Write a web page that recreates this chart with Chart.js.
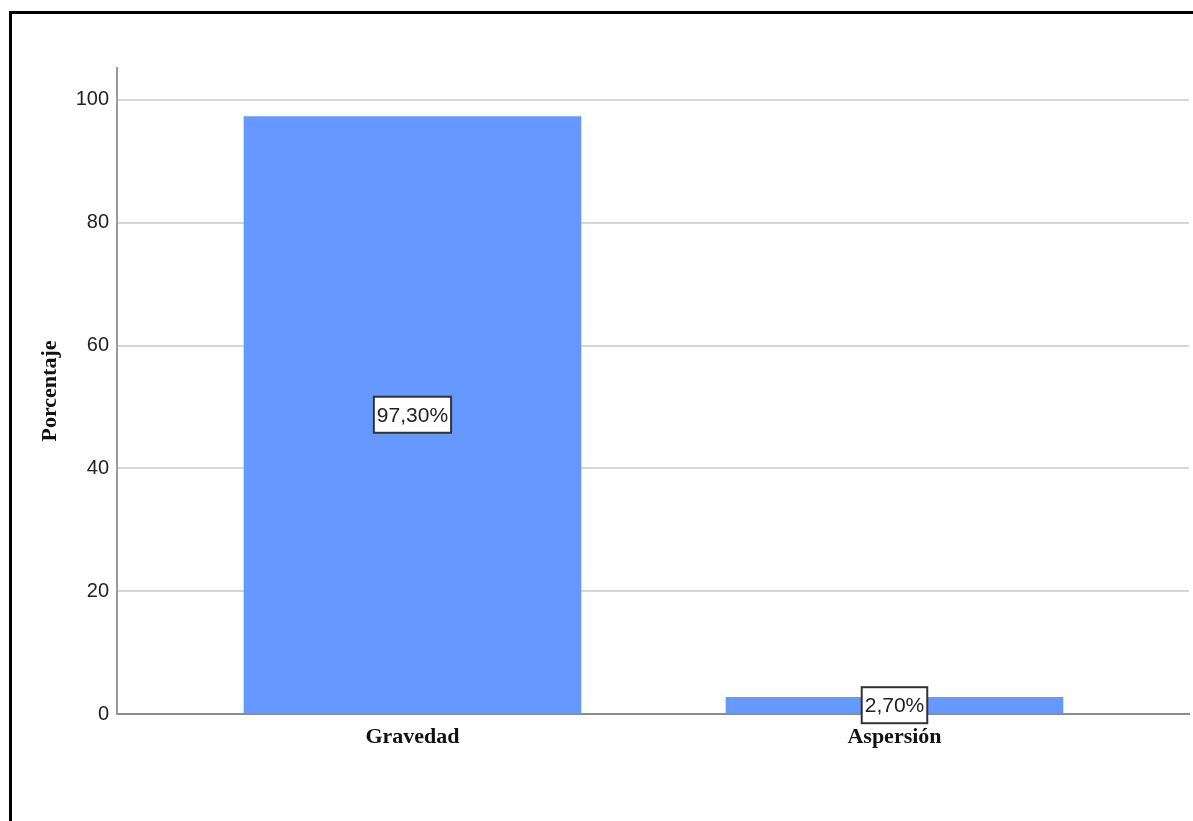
<!DOCTYPE html>
<html lang="es">
<head>
    <meta charset="UTF-8">
    <script src="https://cdn.jsdelivr.net/npm/chart.js@4.4.0/dist/chart.umd.min.js"></script>
    <title>Porcentaje por tipo de riego</title>
    <style>
        body { margin: 0; background: #fff; overflow: hidden; }
        #marco {
            position: absolute; left: 9px; top: 11px;
            width: 1300px; height: 1000px;
            border-left: 3px solid #000; border-top: 3px solid #000;
        }
        #grafico { position: absolute; left: 0; top: 0; }
    </style>
    <script type="text/javascript">
        var categorias = ['Gravedad', 'Aspersión'];
        var porcentajes = [97.3, 2.7];
        var ticksY = [0, 20, 40, 60, 80, 100];

        var etiqueta = function(v) {
            return v.toFixed(2).replace('.', ',') + '%';
        };

        // recuadro blanco con el porcentaje en el centro de cada barra
        var etiquetasBarras = {
            id: 'etiquetasBarras',
            afterDatasetsDraw: function(chart) {
                var ctx = chart.ctx;
                var meta = chart.getDatasetMeta(0);
                ctx.save();
                ctx.font = '21px "Liberation Sans", Arial, sans-serif';
                ctx.textAlign = 'center';
                ctx.textBaseline = 'middle';
                meta.data.forEach(function(bar, i) {
                    var txt = etiqueta(porcentajes[i]);
                    var cx = bar.x;
                    var cy = (bar.y + bar.base) / 2;
                    var w = ctx.measureText(txt).width + 6;
                    var h = 36;
                    ctx.fillStyle = '#fff';
                    ctx.fillRect(cx - w / 2, cy - h / 2, w, h);
                    ctx.lineWidth = 2;
                    ctx.strokeStyle = '#333';
                    ctx.strokeRect(cx - w / 2, cy - h / 2, w, h);
                    ctx.fillStyle = '#222';
                    ctx.fillText(txt, cx, cy + 1);
                });
                ctx.restore();
            }
        };

        window.onload = function() {
            var ctx = document.getElementById('grafico').getContext('2d');
            window.miGrafico = new Chart(ctx, {
                type: 'bar',
                data: {
                    datasets: [{
                        label: 'Porcentaje',
                        data: porcentajes.map(function(v, i) { return { x: i, y: v }; }),
                        backgroundColor: '#6699ff',
                        barThickness: 337
                    }]
                },
                options: {
                    responsive: false,
                    animation: false,
                    layout: { padding: { top: 68, right: 4, left: 0, bottom: 0 } },
                    plugins: { legend: { display: false }, tooltip: { enabled: false } },
                    scales: {
                        x: {
                            type: 'linear',
                            offset: false,
                            min: -0.613,
                            max: 1.611,
                            grid: { display: false, drawTicks: false },
                            border: { color: '#8c8c8c', width: 2 },
                            afterBuildTicks: function(scale) {
                                scale.ticks = categorias.map(function(c, i) { return { value: i }; });
                            },
                            afterFit: function(scale) { scale.height = 107; },
                            ticks: {
                                autoSkip: false,
                                maxRotation: 0,
                                padding: 10,
                                color: '#111',
                                font: { family: '"Liberation Serif", "Times New Roman", serif', size: 22, weight: 'bold' },
                                callback: function(v) { return categorias[v]; }
                            }
                        },
                        y: {
                            min: 0,
                            max: 105.2,
                            grid: { color: '#d6d6d6', lineWidth: 2, drawTicks: false },
                            border: { color: '#9a9a9a', width: 2 },
                            afterFit: function(scale) { scale.width = 117; },
                            afterBuildTicks: function(scale) {
                                scale.ticks = ticksY.map(function(v) { return { value: v }; });
                            },
                            ticks: {
                                padding: 8,
                                color: '#222',
                                font: { family: '"Liberation Sans", Arial, sans-serif', size: 20 }
                            },
                            title: {
                                display: true,
                                text: 'Porcentaje',
                                color: '#111',
                                padding: { top: 37, bottom: 0 },
                                font: { family: '"Liberation Serif", "Times New Roman", serif', size: 22, weight: 'bold' }
                            }
                        }
                    }
                },
                plugins: [etiquetasBarras]
            });
        };
    </script>
</head>
<body>
    <div id="marco"></div>
    <canvas id="grafico" width="1193" height="821"></canvas>
</body>
</html>
